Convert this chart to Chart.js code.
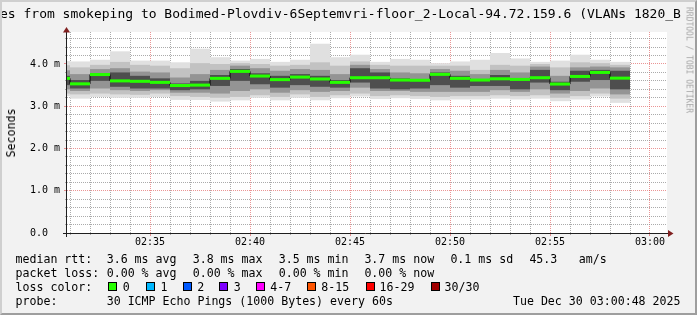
<!DOCTYPE html>
<html>
<head>
<meta charset="utf-8">
<title>smokeping</title>
<script src="https://cdn.jsdelivr.net/npm/chart.js"></script>
<style>
html,body{margin:0;padding:0;background:#f2f2f2}
#box{position:relative;width:697px;height:315px;overflow:hidden;background:#f2f2f2;font-family:"DejaVu Sans Mono",monospace;color:#000}
#box canvas{position:absolute;left:0;top:0}
.t{position:absolute;white-space:pre;font-size:11.6px;line-height:14px}
#title{position:absolute;left:0;top:6px;font-size:13px;line-height:15px;white-space:pre}
#ylab{position:absolute;left:10.5px;top:133px;font-size:11.6px;line-height:14px;white-space:pre;transform:translate(-50%,-50%) rotate(-90deg)}
#wm{position:absolute;left:688.5px;top:60px;font-size:8px;line-height:9px;white-space:pre;color:#a8a8a8;transform:translate(-50%,-50%) rotate(90deg)}
.sw{position:absolute;top:282px;width:7px;height:7px;border:1px solid #000}
#frame{position:absolute;left:0;top:0;width:697px;height:315px;box-sizing:border-box;border-style:solid;border-width:2px;border-color:#cfcfcf #9e9e9e #9e9e9e #cfcfcf;pointer-events:none}
</style>
</head>
<body>
<div id="box">
  <canvas id="c" width="697" height="315"></canvas>
  <div id="title">es from smokeping to Bodimed-Plovdiv-6Septemvri-floor_2-Local-94.72.159.6 (VLANs 1820_B</div>
  <div id="ylab">Seconds</div>
  <div id="wm">RRDTOOL / TOBI OETIKER</div>

  <div class="t" style="top:252.3px;left:15.5px">median rtt:</div>
  <div class="t" style="top:252.3px;left:106.7px">3.6 ms avg</div>
  <div class="t" style="top:252.3px;left:192.7px">3.8 ms max</div>
  <div class="t" style="top:252.3px;left:278.7px">3.5 ms min</div>
  <div class="t" style="top:252.3px;left:364.4px">3.7 ms now</div>
  <div class="t" style="top:252.3px;left:450.4px">0.1 ms sd</div>
  <div class="t" style="top:252.3px;left:529.4px">45.3</div>
  <div class="t" style="top:252.3px;left:578.7px">am/s</div>

  <div class="t" style="top:266.3px;left:15.5px">packet loss:</div>
  <div class="t" style="top:266.3px;left:106.7px">0.00 % avg</div>
  <div class="t" style="top:266.3px;left:192.7px">0.00 % max</div>
  <div class="t" style="top:266.3px;left:278.7px">0.00 % min</div>
  <div class="t" style="top:266.3px;left:364.4px">0.00 % now</div>

  <div class="t" style="top:280.3px;left:15.5px">loss color:</div>
  <div class="sw" style="left:108px;background:#26ff00"></div><div class="t" style="top:280.3px;left:122.8px">0</div>
  <div class="sw" style="left:146px;background:#00b8ff"></div><div class="t" style="top:280.3px;left:160.5px">1</div>
  <div class="sw" style="left:183px;background:#0059ff"></div><div class="t" style="top:280.3px;left:197.2px">2</div>
  <div class="sw" style="left:219px;background:#7e00ff"></div><div class="t" style="top:280.3px;left:233.8px">3</div>
  <div class="sw" style="left:256px;background:#ff00ff"></div><div class="t" style="top:280.3px;left:270.2px">4-7</div>
  <div class="sw" style="left:307px;background:#ff5500"></div><div class="t" style="top:280.3px;left:321.2px">8-15</div>
  <div class="sw" style="left:366px;background:#ff0000"></div><div class="t" style="top:280.3px;left:379.5px">16-29</div>
  <div class="sw" style="left:431px;background:#a10000"></div><div class="t" style="top:280.3px;left:444.5px">30/30</div>

  <div class="t" style="top:294.3px;left:15.5px">probe:</div>
  <div class="t" style="top:294.3px;left:106.7px">30 ICMP Echo Pings (1000 Bytes) every 60s</div>
  <div class="t" style="top:294.3px;right:16.5px">Tue Dec 30 03:00:48 2025</div>
  <div id="frame"></div>
</div>
<script>
// one column per minute, 02:30 .. 02:58 (values in ms)
const times = ['02:30','02:31','02:32','02:33','02:34','02:35','02:36','02:37','02:38','02:39',
  '02:40','02:41','02:42','02:43','02:44','02:45','02:46','02:47','02:48','02:49',
  '02:50','02:51','02:52','02:53','02:54','02:55','02:56','02:57','02:58'];
const median = [3.66,3.53,3.75,3.60,3.59,3.565,3.49,3.50,3.66,3.825,3.715,3.63,3.69,3.645,3.565,
  3.675,3.675,3.62,3.615,3.755,3.66,3.62,3.65,3.635,3.675,3.525,3.705,3.80,3.665];
// smoke: sorted ping spread, outer to inner
const smokeMin = [3.24,3.18,3.22,3.20,3.20,3.22,3.15,3.15,3.11,3.14,3.20,3.14,3.20,3.14,3.19,3.23,3.17,3.19,3.17,3.14,3.16,3.16,3.18,3.16,3.18,3.12,3.16,3.23,3.08];
const smokeMax = [4.07,4.06,4.10,4.30,4.08,4.08,4.04,4.36,4.16,4.08,4.12,4.05,4.10,4.48,4.16,4.22,4.05,4.12,4.10,4.02,4.06,4.10,4.26,4.13,4.05,4.08,4.22,4.10,4.05];
const smokeLow = [3.30,3.28,3.30,3.28,3.27,3.30,3.24,3.22,3.20,3.22,3.26,3.22,3.28,3.22,3.26,3.30,3.24,3.26,3.24,3.22,3.24,3.24,3.26,3.24,3.26,3.20,3.24,3.30,3.18];
const smokeHigh = [3.97,3.92,3.98,4.05,3.98,3.96,3.90,4.02,4.00,4.02,4.00,3.96,3.98,4.04,3.96,4.06,3.98,3.96,3.96,3.96,3.96,3.86,3.98,3.96,4.00,3.92,4.04,4.02,3.98];
const midLow = [3.40,3.36,3.42,3.38,3.36,3.38,3.32,3.32,3.30,3.36,3.40,3.32,3.38,3.34,3.36,3.44,3.36,3.36,3.34,3.34,3.34,3.34,3.38,3.34,3.40,3.30,3.36,3.42,3.28];
const midHigh = [3.85,3.76,3.88,3.90,3.82,3.80,3.68,3.76,3.86,3.96,3.90,3.84,3.88,3.86,3.76,3.98,3.88,3.80,3.78,3.88,3.84,3.76,3.86,3.80,3.94,3.72,3.92,3.94,3.92];
const coreLow = [3.50,3.42,3.60,3.46,3.42,3.42,3.38,3.40,3.48,3.60,3.52,3.44,3.50,3.46,3.44,3.56,3.42,3.40,3.42,3.50,3.44,3.48,3.48,3.40,3.56,3.38,3.58,3.62,3.40];
const coreHigh = [3.72,3.62,3.78,3.80,3.72,3.66,3.54,3.60,3.74,3.88,3.78,3.72,3.76,3.72,3.62,3.90,3.80,3.66,3.64,3.80,3.72,3.64,3.74,3.66,3.86,3.58,3.84,3.86,3.84];

const xTickLabels = ['02:35','02:40','02:45','02:50','02:55','03:00'];
const yTickLabels = ['0.0','1.0 m','2.0 m','3.0 m','4.0 m'];

// view window: 02:30:51 .. 03:00:51, in minutes after 02:30
const xMin = 0.85, xMax = 30.85, yMax = 4.757;

const GRID = 'rgba(143,143,143,0.75)';
const MGRID = 'rgba(222,79,79,0.6)';

function toMin(s){ const [h,m] = s.split(':').map(Number); return h*60 + m - 150; }
function clock(v){ const t = 150 + Math.round(v); return String(Math.floor(t/60)).padStart(2,'0') + ':' + String(t%60).padStart(2,'0'); }
function isInt(v){ return Math.abs(v - Math.round(v)) < 1e-6; }

function band(lo, hi, color, order){
  return {
    type: 'bar', order, backgroundColor: color, borderWidth: 0, inflateAmount: 0,
    barThickness: 20, grouped: false,
    data: times.map((t,i) => ({x: toMin(t) + 0.5, y: [lo[i], hi[i]]}))
  };
}

const halfLine = 0.036;
const greenBand = band(median.map(m => m - halfLine), median.map(m => m + halfLine), '#26ff00', 0);
// black step line: holds each median across its minute, joins with verticals
const stepLine = {
  type: 'line', order: 1, stepped: 'before', borderColor: '#000', borderWidth: 1,
  pointRadius: 0, fill: false,
  data: times.map((t,i) => ({x: toMin(t), y: median[i]}))
    .concat([{x: toMin(times[times.length-1]) + 1, y: median[median.length-1]}])
};

const decor = {
  id: 'decor',
  beforeDraw(c){
    const {ctx, chartArea: a} = c;
    ctx.save();
    ctx.fillStyle = '#fff';
    ctx.fillRect(a.left, a.top, a.right - a.left, a.bottom - a.top);
    ctx.restore();
  },
  afterDatasetsDraw(c){
    const {ctx, chartArea: a, scales: {x, y}} = c;
    ctx.save();
    ctx.lineWidth = 1;
    x.ticks.forEach(t => {
      const px = Math.round(x.getPixelForValue(t.value) - 0.5) + 0.5;
      const maj = t.value % 5 === 0;
      ctx.strokeStyle = maj ? MGRID : GRID;
      ctx.beginPath(); ctx.moveTo(px, a.bottom); ctx.lineTo(px, a.bottom + (maj ? 3 : 2)); ctx.stroke();
    });
    y.ticks.forEach(t => {
      const py = Math.round(y.getPixelForValue(t.value) - 0.5) + 0.5;
      const maj = isInt(t.value);
      ctx.strokeStyle = maj ? MGRID : GRID;
      ctx.beginPath(); ctx.moveTo(a.left - (maj ? 3 : 2), py); ctx.lineTo(a.left, py); ctx.stroke();
    });
    // axes
    ctx.strokeStyle = '#1f1f1f';
    ctx.beginPath();
    ctx.moveTo(a.left - 4, a.bottom + 0.5); ctx.lineTo(a.right + 1, a.bottom + 0.5);
    ctx.moveTo(a.left - 0.5, a.bottom + 4); ctx.lineTo(a.left - 0.5, a.top);
    ctx.stroke();
    ctx.fillStyle = '#802020';
    ctx.beginPath();
    ctx.moveTo(a.right + 1, a.bottom - 3); ctx.lineTo(a.right + 6.5, a.bottom + 0.5); ctx.lineTo(a.right + 1, a.bottom + 4);
    ctx.closePath(); ctx.fill();
    ctx.beginPath();
    ctx.moveTo(a.left - 4, a.top + 0.5); ctx.lineTo(a.left - 0.5, a.top - 5); ctx.lineTo(a.left + 3, a.top + 0.5);
    ctx.closePath(); ctx.fill();
    ctx.restore();
  }
};

const tickFont = {family: 'DejaVu Sans Mono', size: 10};

new Chart(document.getElementById('c'), {
  type: 'bar',
  data: {
    datasets: [
      greenBand,
      stepLine,
      band(coreLow, coreHigh, '#4e4e4e', 2),
      band(midLow, midHigh, '#949494', 3),
      band(smokeLow, smokeHigh, '#c2c2c2', 4),
      band(smokeMin, smokeMax, '#e0e0e0', 5)
    ]
  },
  options: {
    responsive: false, animation: false, events: [], devicePixelRatio: 1,
    layout: {padding: {left: 30, right: 30, top: 32, bottom: 62}},
    plugins: {legend: {display: false}, tooltip: {enabled: false}},
    scales: {
      x: {
        type: 'linear', min: xMin, max: xMax, bounds: 'data', offset: false,
        afterBuildTicks: s => { const t = []; for (let m = Math.ceil(s.min); m <= s.max; m++) t.push({value: m}); s.ticks = t; },
        afterFit: s => { s.height = 20; },
        grid: {offset: false, drawTicks: false, lineWidth: 1, color: c => c.tick && c.tick.value % 5 === 0 ? MGRID : GRID},
        border: {display: false, dash: [1,1]},
        ticks: {autoSkip: false, maxRotation: 0, padding: 3, font: tickFont, color: '#000',
          callback: v => { const s = clock(v); return isInt(v) && xTickLabels.includes(s) ? s : ''; }}
      },
      y: {
        type: 'linear', min: 0, max: yMax, bounds: 'data',
        afterBuildTicks: s => { const t = []; for (let k = 0; k * 0.2 <= s.max + 1e-9; k++) t.push({value: Math.round(k * 2) / 10}); s.ticks = t; },
        afterFit: s => { s.width = 37; },
        grid: {drawTicks: false, lineWidth: 1, color: c => c.tick && isInt(c.tick.value) ? MGRID : GRID},
        border: {display: false, dash: [1,1]},
        ticks: {autoSkip: false, crossAlign: 'far', padding: 0, font: tickFont, color: '#000',
          callback: v => isInt(v) ? (yTickLabels[Math.round(v)] || '') : ''}
      }
    }
  },
  plugins: [decor]
});
</script>
</body>
</html>
